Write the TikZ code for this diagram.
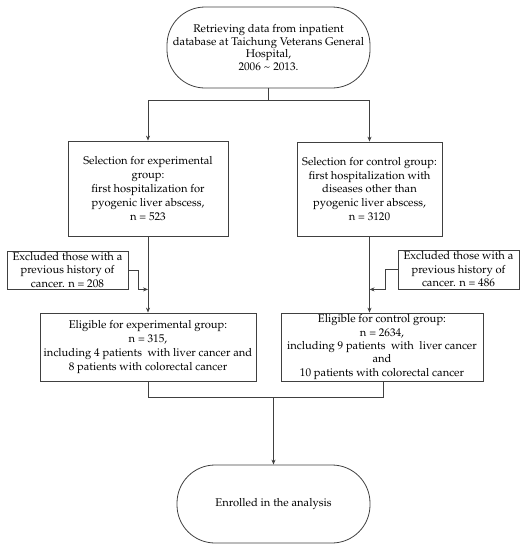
\documentclass[tikz,border=0pt]{standalone}
\usepackage[T1]{fontenc}
\usepackage{mathpazo}
\usetikzlibrary{arrows.meta}
\begin{document}
\begin{tikzpicture}[x=1pt,y=-1pt,
  line/.style={draw=black!75, line width=0.8pt},
  arr/.style={line, -{Stealth[length=5pt,width=4pt]}},
  box/.style={draw=black!75, line width=0.8pt, inner sep=0pt, align=center, font=\fontsize{11.2}{13.8}\selectfont},
  term/.style={box, rounded corners=38pt, font=\fontsize{11.2}{12.6}\selectfont}]
\useasboundingbox (0,0) rectangle (525,550);
\node[term, minimum width=203pt, minimum height=81pt] (top) at (268.5,47.5)
  {Retrieving data from inpatient\\database at Taichung Veterans General\\Hospital,\\2006 \textasciitilde{} 2013.};
\node[box, minimum width=160pt, minimum height=95pt] (selL) at (148,188.5)
  {Selection for experimental\\group:\\first hospitalization for\\pyogenic liver abscess,\\n = 523};
\node[box, minimum width=145pt, minimum height=94pt] (selR) at (369.5,189)
  {Selection for control group:\\first hospitalization with\\diseases other than\\pyogenic liver abscess,\\n = 3120};
\node[box, minimum width=121pt, minimum height=38pt, font=\fontsize{11.2}{13.5}\selectfont] (exL) at (67.5,270)
  {Excluded those with a\\previous history of\\cancer. n = 208};
\node[box, minimum width=121pt, minimum height=39pt, font=\fontsize{11.2}{13.5}\selectfont] (exR) at (458.5,269.5)
  {Excluded those with a\\previous history of\\cancer. n = 486};
\node[box, minimum width=216pt, minimum height=68pt] (elL) at (148,347)
  {Eligible for experimental group:\\n = 315,\\including 4 patients\ \ with liver cancer and\\8 patients with colorectal cancer};
\node[box, minimum width=202pt, minimum height=68pt, font=\fontsize{11.2}{13.4}\selectfont] (elR) at (382,347)
  {Eligible for control group:\\n = 2634,\\including 9 patients\ \ with\ \ liver cancer\\and\\10 patients with colorectal cancer};
\node[term, minimum width=193pt, minimum height=78pt] (enr) at (273.5,504)
  {Enrolled in the analysis};
% top split
\coordinate (split) at (268.5,100);
\draw[line] (top.south) -- (split);
\draw[line] (148,100) -- (369.5,100);
\draw[arr] (148,100) -- (selL.north);
\draw[arr] (369.5,100) -- (selR.north);
% main flows
\draw[arr] (selL.south) -- (elL.north);
\draw[arr] (selR.south) -- (selR.south |- elR.north);
% exclusions
\draw[arr] (exL.east) -- ++(10,0) |- (selL.south |- exL.south);
\draw[arr] (exR.west) -- ++(-12,0) |- (selR.south |- exR.south);
% merge
\coordinate (mL) at (148,397);
\coordinate (mR) at (383,397);
\draw[line] (148,381) -- (mL) -- (mR) -- (383,381);
\draw[arr] (enr.north |- mL) -- (enr.north);
\end{tikzpicture}
\end{document}
